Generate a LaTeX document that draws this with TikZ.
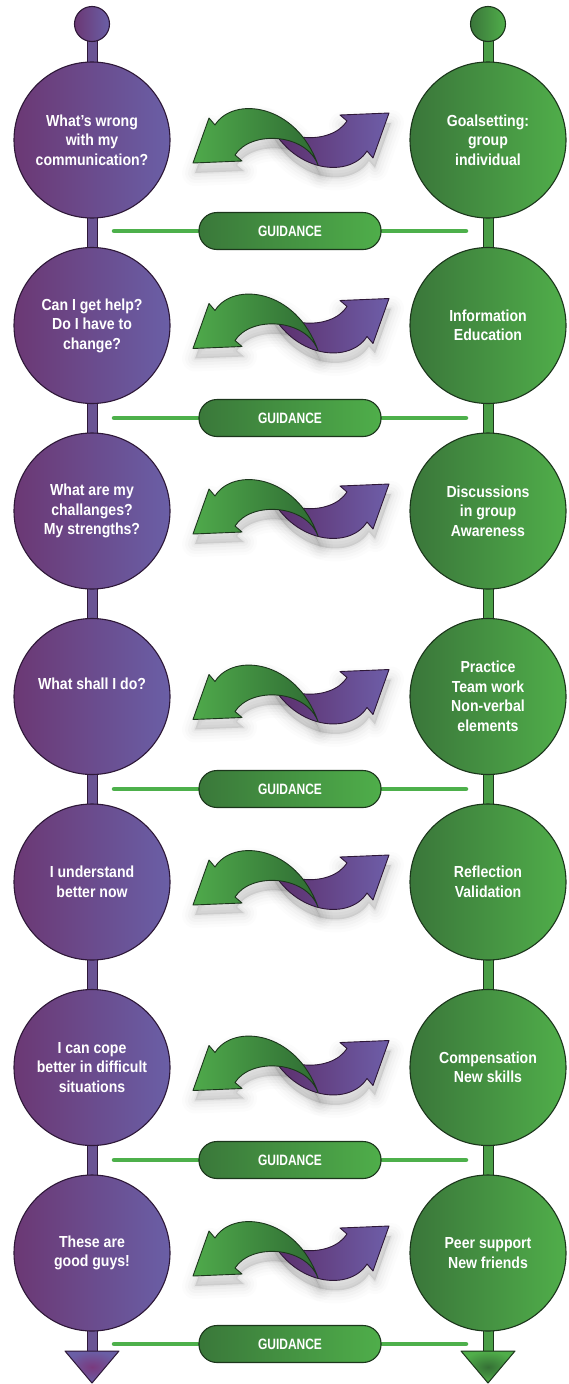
\documentclass[tikz,border=0pt]{standalone}
\usepackage{fontspec}
\newfontfamily\condfont{Liberation Sans}[FakeStretch=0.88]
\newfontfamily\capsfont{Liberation Sans}[FakeStretch=0.80]
\usetikzlibrary{calc}
\pgfdeclarelayer{paper}
\pgfdeclarelayer{background}
\pgfsetlayers{paper,background,main}

\definecolor{pDark}{HTML}{6B3874}
\definecolor{pLight}{HTML}{6A5FA6}
\definecolor{pEdge}{HTML}{2E1838}
\definecolor{pStem}{HTML}{6A5494}
\definecolor{pTriIn}{HTML}{7A3A7E}
\definecolor{gDark}{HTML}{3A763A}
\definecolor{gLight}{HTML}{50AE4A}
\definecolor{gEdge}{HTML}{1C361C}
\definecolor{gStem}{HTML}{4A9E46}
\definecolor{gTriIn}{HTML}{357035}
\definecolor{gLine}{HTML}{4DB04B}
\definecolor{gBoxL}{HTML}{3A783A}
\definecolor{gBoxR}{HTML}{4FAE4A}
\definecolor{gArrL}{HTML}{4FAA4B}
\definecolor{gArrR}{HTML}{2F6B33}
\definecolor{pArrL}{HTML}{5A2A66}
\definecolor{pArrR}{HTML}{6E5EA8}

\newcommand\lbl{\condfont\bfseries\fontsize{16}{19.5}\selectfont}
\newcommand\boxlbl{\capsfont\bfseries\fontsize{15}{18}\selectfont}

% the two swapping arrows, relative to their common centre
\newcommand\grnpath{(-98,25) -- (-82,-20) -- (-76,-13)
  .. controls (-58,-42) and (5,-35) .. (27,27)
  .. controls (15,-5) and (-40,-8) .. (-56,17) -- (-49,23) -- cycle}
\newcommand\prppath{(98,-25) -- (82,20) -- (76,13)
  .. controls (58,42) and (-5,35) .. (-27,-27)
  .. controls (-15,5) and (40,8) .. (56,-17) -- (49,-23) -- cycle}

\tikzset{
  pcirc/.style={circle, draw=pEdge, line width=1.1pt, left color=pDark, right color=pLight,
    minimum size=156pt, inner sep=0pt, text=white, align=center, font=\lbl},
  gcirc/.style={circle, draw=gEdge, line width=1.1pt, left color=gDark, right color=gLight,
    minimum size=156pt, inner sep=0pt, text=white, align=center, font=\lbl},
  pball/.style={circle, draw=pEdge, line width=1.1pt, left color=pDark, right color=pLight,
    minimum size=35pt, inner sep=0pt},
  gball/.style={circle, draw=gEdge, line width=1.1pt, left color=gDark, right color=gLight,
    minimum size=35pt, inner sep=0pt},
  pstem/.style={draw=pEdge, line width=1pt, fill=pStem},
  gstem/.style={draw=gEdge, line width=1pt, fill=gStem},
  gline/.style={draw=gLine, line width=4.5pt, line cap=round},
  gbox/.style={rectangle, rounded corners=18pt, minimum width=182pt, minimum height=37pt,
    draw=gEdge, line width=1.1pt, left color=gBoxL, right color=gBoxR,
    text=white, font=\boxlbl, inner sep=0pt},
  ptri/.style={draw=pEdge, line width=1pt, line join=round, inner color=pTriIn, outer color=pLight},
  gtri/.style={draw=gEdge, line width=1pt, line join=round, inner color=gTriIn, outer color=gLight},
  labeltext/.style={text=white, align=center, font=\lbl},
  garrow/.style={draw=gEdge, line width=0.9pt, line join=round, left color=gArrL, right color=gArrR},
  parrow/.style={draw=pEdge, line width=0.9pt, line join=round, left color=pArrL, right color=pArrR},
  swaparrows/.pic={
    % soft shadow: stacked translucent outlines
    \foreach \w/\o in {26/0.012, 20/0.016, 14/0.02, 8/0.025, 3/0.03}{
      \filldraw[black, opacity=\o, line width=\w pt, line join=round, shift={(2,10)}] \grnpath;
      \filldraw[black, opacity=\o, line width=\w pt, line join=round, shift={(2,10)}] \prppath;
    }
    \draw[parrow] \prppath;
    \draw[garrow] \grnpath;
  },
}

\begin{document}
\begin{tikzpicture}[x=1pt, y=-1pt]
\useasboundingbox (0,0) rectangle (568,1384);
\begin{pgfonlayer}{paper}
  \fill[white] (0,0) rectangle (568,1384);
\end{pgfonlayer}

% start balls
\node[pball] (Lb) at (92,24) {};
\node[gball] (Rb) at (488,24) {};

% left column: the person
\node[pcirc] (L1) at (92,140)    {What’s wrong\\with my\\communication?};
\node[pcirc] (L2) at (92,325.5)  {Can I get help?\\Do I have to\\change?};
\node[pcirc] (L3) at (92,511)    {What are my\\challanges?\\My strengths?};
\node[pcirc] (L4) at (92,696.5)  {};
\node[labeltext] (L4t) at (92,684) {What shall I do?};
\node[pcirc] (L5) at (92,882)    {I understand\\better now};
\node[pcirc] (L6) at (92,1067.5) {I can cope\\better in difficult\\situations};
\node[pcirc] (L7) at (92,1253)   {These are\\good guys!};

% right column: the programme
\node[gcirc] (R1) at (488,140)    {Goalsetting:\\group\\individual};
\node[gcirc] (R2) at (488,325.5)  {Information\\Education};
\node[gcirc] (R3) at (488,511)    {Discussions\\in group\\Awareness};
\node[gcirc] (R4) at (488,696.5)  {Practice\\Team work\\Non-verbal\\elements};
\node[gcirc] (R5) at (488,882)    {Reflection\\Validation};
\node[gcirc] (R6) at (488,1067.5) {Compensation\\New skills};
\node[gcirc] (R7) at (488,1253)   {Peer support\\New friends};

% end points of the two columns
\coordinate (Le) at (92,1362);
\coordinate (Re) at (488,1362);
\draw[ptri] (65,1351) -- (119,1351) -- (92,1383) -- cycle;
\draw[gtri] (461,1351) -- (515,1351) -- (488,1383) -- cycle;

% stems joining the circles
\begin{pgfonlayer}{background}
  \foreach \a/\b in {Lb/L1, L1/L2, L2/L3, L3/L4, L4/L5, L5/L6, L6/L7, L7/Le}
    \draw[pstem] ($(\a)+(-5,0)$) rectangle ($(\b)+(5,0)$);
  \foreach \a/\b in {Rb/R1, R1/R2, R2/R3, R3/R4, R4/R5, R5/R6, R6/R7, R7/Re}
    \draw[gstem] ($(\a)+(-5,0)$) rectangle ($(\b)+(5,0)$);
\end{pgfonlayer}

% exchange arrows between the columns
\foreach \y/\n in {138/1, 323.5/2, 509/3, 694.5/4, 880/5, 1065.5/6, 1251/7}
  \pic (X\n) at (291,\y) {swaparrows};

% guidance bars
\foreach \y/\n in {231/1, 418/2, 789/3, 1160/4, 1344/5}{
  \coordinate (ga\n) at (114,\y);
  \coordinate (gb\n) at (466,\y);
  \draw[gline] (ga\n) -- (gb\n);
  \node[gbox] (G\n) at (290,\y) {GUIDANCE};
}
\end{tikzpicture}
\end{document}
